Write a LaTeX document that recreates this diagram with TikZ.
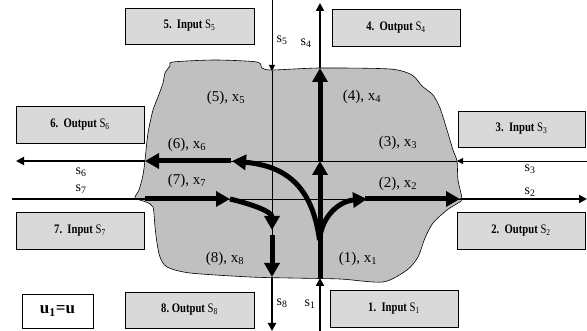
\documentclass[tikz,border=0pt]{standalone}
\usepackage{fontspec}
\setmainfont{Liberation Serif}
\newfontfamily\boxfont[FakeStretch=0.82]{Liberation Serif}
\usetikzlibrary{arrows.meta}
\definecolor{boxgray}{HTML}{D9D9D9}
\definecolor{blobgray}{HTML}{C0C0C0}
\newcommand\mysb[1]{\textsubscript{#1}}
\begin{document}
\begin{tikzpicture}[x=1pt,y=-1pt,
 box/.style={draw, line width=0.8pt, fill=boxgray, inner sep=0pt, font=\boxfont\fontsize{13}{15}\selectfont},
 ubox/.style={draw, line width=0.8pt, fill=white, inner sep=0pt, font=\bfseries\fontsize{17}{19}\selectfont},
 lab/.style={font=\fontsize{15}{17}\selectfont, inner sep=0pt},
 slab/.style={font=\fontsize{14}{16}\selectfont, inner sep=0pt},
 flow/.style={line width=5pt, -{Triangle[length=14pt,width=15pt]}},
 sig/.style={line width=2pt, -{Triangle[length=8pt,width=8pt]}},
 sigthin/.style={line width=0.8pt, -{Triangle[length=6pt,width=6pt]}},
 plain/.style={line width=2pt},
 gridline/.style={line width=0.6pt}
]
\useasboundingbox (0,0) rectangle (587,331);

% region
\draw[fill=blobgray, line width=0.6pt] plot[smooth cycle, tension=0.45] coordinates {
 (173,62) (215,60) (257,62) (262,68) (272,70) (320,68) (390,69) (412,75) (422,86)
 (433,95) (440,108) (447,130) (453,150) (457,161) (458,180) (462,199) (458,203)
 (447,210) (433,223) (425,238) (418,257) (407,270) (383,282) (340,279) (290,278)
 (250,277) (190,273) (167,267) (160,257) (157,243) (155,227) (153,207) (146,202)
 (135,198) (139,190) (143,175) (145,160) (148,133) (153,110) (158,97) (163,83)
 (165,73) (170,66)};

% boxes
\node[box, minimum width=129pt, minimum height=36pt] (b5) at (189.5,26) {\textbf{5.\ \ Input} S\mysb{5}};
\node[box, minimum width=128pt, minimum height=37pt] (b4) at (396,27.5) {\textbf{4.\ \ Output} S\mysb{4}};
\node[box, minimum width=128pt, minimum height=37pt] (b6) at (80,124.5) {\textbf{6.\ \ Output} S\mysb{6}};
\node[box, minimum width=127pt, minimum height=36pt] (b3) at (521.5,129) {\textbf{3.\ \ Input} S\mysb{3}};
\node[box, minimum width=128pt, minimum height=37pt] (b7) at (80,230.5) {\textbf{7.\ \ Input} S\mysb{7}};
\node[box, minimum width=128pt, minimum height=37pt] (b2) at (521,230.5) {\textbf{2.\ \ Output} S\mysb{2}};
\node[box, minimum width=129pt, minimum height=36pt] (b8) at (189.5,310) {\textbf{8.\ Output} S\mysb{8}};
\node[box, minimum width=128pt, minimum height=37pt] (b1) at (394,308.5) {\textbf{1.\ \ Input} S\mysb{1}};
\node[ubox, minimum width=71pt, minimum height=34pt] (bu) at (57.5,311) {u\mysb{1}=u};

% coordinates
\coordinate (s1start) at (320,331);
\coordinate (p1b) at (320,278);
\coordinate (pc1) at (320,161);
\coordinate (p4t) at (320,68);
\coordinate (s4end) at (320,3);
\coordinate (s5start) at (272,0);
\coordinate (p5t) at (272,71);
\coordinate (p8s) at (272,235);
\coordinate (p8a) at (272,230);
\coordinate (p8b) at (272,277);
\coordinate (s8end) at (272,331);
\coordinate (pj) at (319.5,240);
\coordinate (p6a) at (232,161);
\coordinate (p6s) at (231,161);
\coordinate (p6b) at (145,161);
\coordinate (s6end) at (16,161);
\coordinate (s3start) at (587,161);
\coordinate (p3b) at (457,161);
\coordinate (s7start) at (12,199);
\coordinate (p7b) at (145,199);
\coordinate (p7e) at (230,199);
\coordinate (p2a) at (367,199);
\coordinate (p2s) at (365,199);
\coordinate (p2b) at (460,199);
\coordinate (s2end) at (587,199);

% thin lines
\draw[gridline] (p3b) -- (p6s);
\draw[gridline] (p7b) -- (p2b);
\draw[gridline] (p5t) -- (p8s);
\draw[sigthin] (s5start) -- (p5t);
\draw[sigthin] (s3start) -- (p3b);

% signals outside
\draw[sig] (s1start) -- (p1b);
\draw[sig] (p4t) -- (s4end);
\draw[sig] (p6b) -- (s6end);
\draw[plain] (s7start) -- (p7b);
\draw[sig] (p2b) -- (s2end);
\draw[sig] (p8b) -- (s8end);

% flows
\draw[flow] (p1b) -- (pc1);
\draw[flow] (pc1) -- (p4t);
\draw[flow] (pj) .. controls (312,185) and (285,166) .. (p6a);
\draw[flow] (p6s) -- (p6b);
\draw[flow] (pj) .. controls (322,215) and (340,201) .. (p2a);
\draw[flow] (p2s) -- (p2b);
\draw[flow] (p7b) -- (p7e);
\draw[flow] (p7e) .. controls (255,205) and (272,212) .. (p8a);
\draw[flow] (p8s) -- (p8b);

% labels
\node[lab] (l5) at (226,98) {(5), x\mysb{5}};
\node[lab] (l4) at (362,97) {(4), x\mysb{4}};
\node[lab] (l6) at (187,145) {(6), x\mysb{6}};
\node[lab] (l3) at (398,143) {(3), x\mysb{3}};
\node[lab] (l7) at (187,181) {(7), x\mysb{7}};
\node[lab] (l2) at (398,184) {(2), x\mysb{2}};
\node[lab] (l8) at (225,259) {(8), x\mysb{8}};
\node[lab] (l1) at (358,259) {(1), x\mysb{1}};
\node[slab] (t5) at (282,40) {s\mysb{5}};
\node[slab] (t4) at (306,43) {s\mysb{4}};
\node[slab] (t6) at (81,172) {s\mysb{6}};
\node[slab] (t7) at (81,189) {s\mysb{7}};
\node[slab] (t3) at (530,169) {s\mysb{3}};
\node[slab] (t2) at (530,192) {s\mysb{2}};
\node[slab] (t8) at (282,303) {s\mysb{8}};
\node[slab] (t1) at (310,304) {s\mysb{1}};
\end{tikzpicture}
\end{document}
